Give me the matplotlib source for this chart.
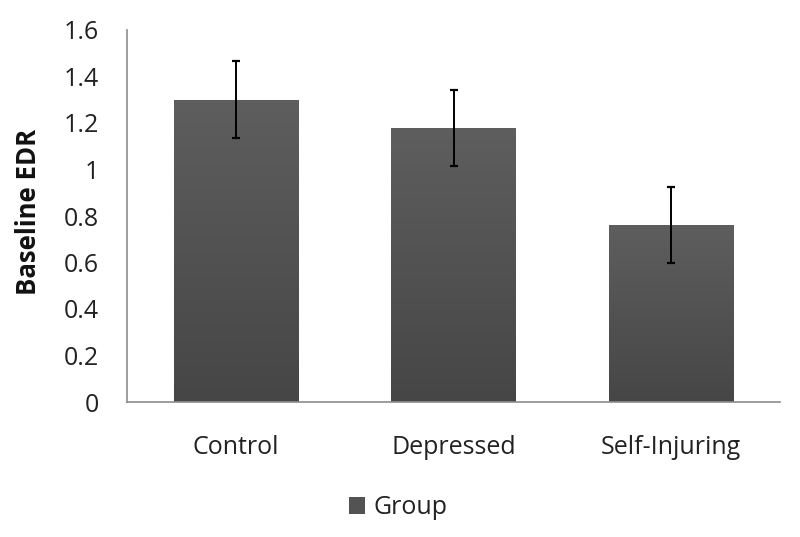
import matplotlib
matplotlib.use("Agg")
import matplotlib.pyplot as plt
import numpy as np
from matplotlib.colors import LinearSegmentedColormap

categories = ["Control", "Depressed", "Self-Injuring"]
values = [1.30, 1.18, 0.76]
errors = [0.165, 0.163, 0.164]
yticks = [0, 0.2, 0.4, 0.6, 0.8, 1.0, 1.2, 1.4, 1.6]
ytick_labels = ["0", "0.2", "0.4", "0.6", "0.8", "1", "1.2", "1.4", "1.6"]
legend_label = "Group"
ylabel = "Baseline EDR"

plt.rcParams['font.family'] = ['Open Sans', 'DejaVu Sans']

fig = plt.figure(figsize=(8.0, 5.37), dpi=100)
ax = fig.add_axes([127/800, 1 - 402/537, (780-127)/800, (402-30)/537])

x = np.arange(len(categories))
bars = ax.bar(x, values, width=0.57, color="#535353", label=legend_label, zorder=2)

# vertical gradient on bars (lighter at top)
grad = np.linspace(0, 1, 256).reshape(-1, 1)
cmap = LinearSegmentedColormap.from_list("g", ["#464646", "#5e5e5e"])
for b in bars:
    x0, y0 = b.get_x(), b.get_y()
    w, h = b.get_width(), b.get_height()
    im = ax.imshow(grad, extent=[x0, x0 + w, y0, y0 + h], origin="lower",
                   cmap=cmap, aspect="auto", zorder=2.5)
    im.set_clip_path(b)

ax.errorbar(x, values, yerr=errors, fmt="none", ecolor="black",
            elinewidth=1.4, capsize=3, capthick=1.6, zorder=3)

ax.set_xlim(-0.5, 2.5)
ax.set_ylim(0, 1.6)
ax.set_yticks(yticks)
ax.set_yticklabels(ytick_labels)
ax.set_xticks(x)
ax.set_xticklabels(categories)
ax.tick_params(axis="both", length=0, labelsize=18, labelcolor="#222222")
ax.tick_params(axis="y", pad=20)
ax.tick_params(axis="x", pad=24)

for s in ["top", "right"]:
    ax.spines[s].set_visible(False)
for s in ["left", "bottom"]:
    ax.spines[s].set_color("#8c8c8c")
    ax.spines[s].set_linewidth(1.2)

ax.set_ylabel(ylabel, fontsize=18.5, fontweight="bold", color="#111111")
ax.yaxis.set_label_coords((42 - 127) / (780 - 127), (402 - 212) / (402 - 30))

leg = fig.legend(handles=[bars], labels=[legend_label], loc="center",
                 bbox_to_anchor=(398/800, 1 - 508/537), frameon=False,
                 fontsize=18, handlelength=0.65, handleheight=0.65,
                 handletextpad=0.35)
for t in leg.get_texts():
    t.set_color("#222222")

fig.savefig("out.png", dpi=100)
